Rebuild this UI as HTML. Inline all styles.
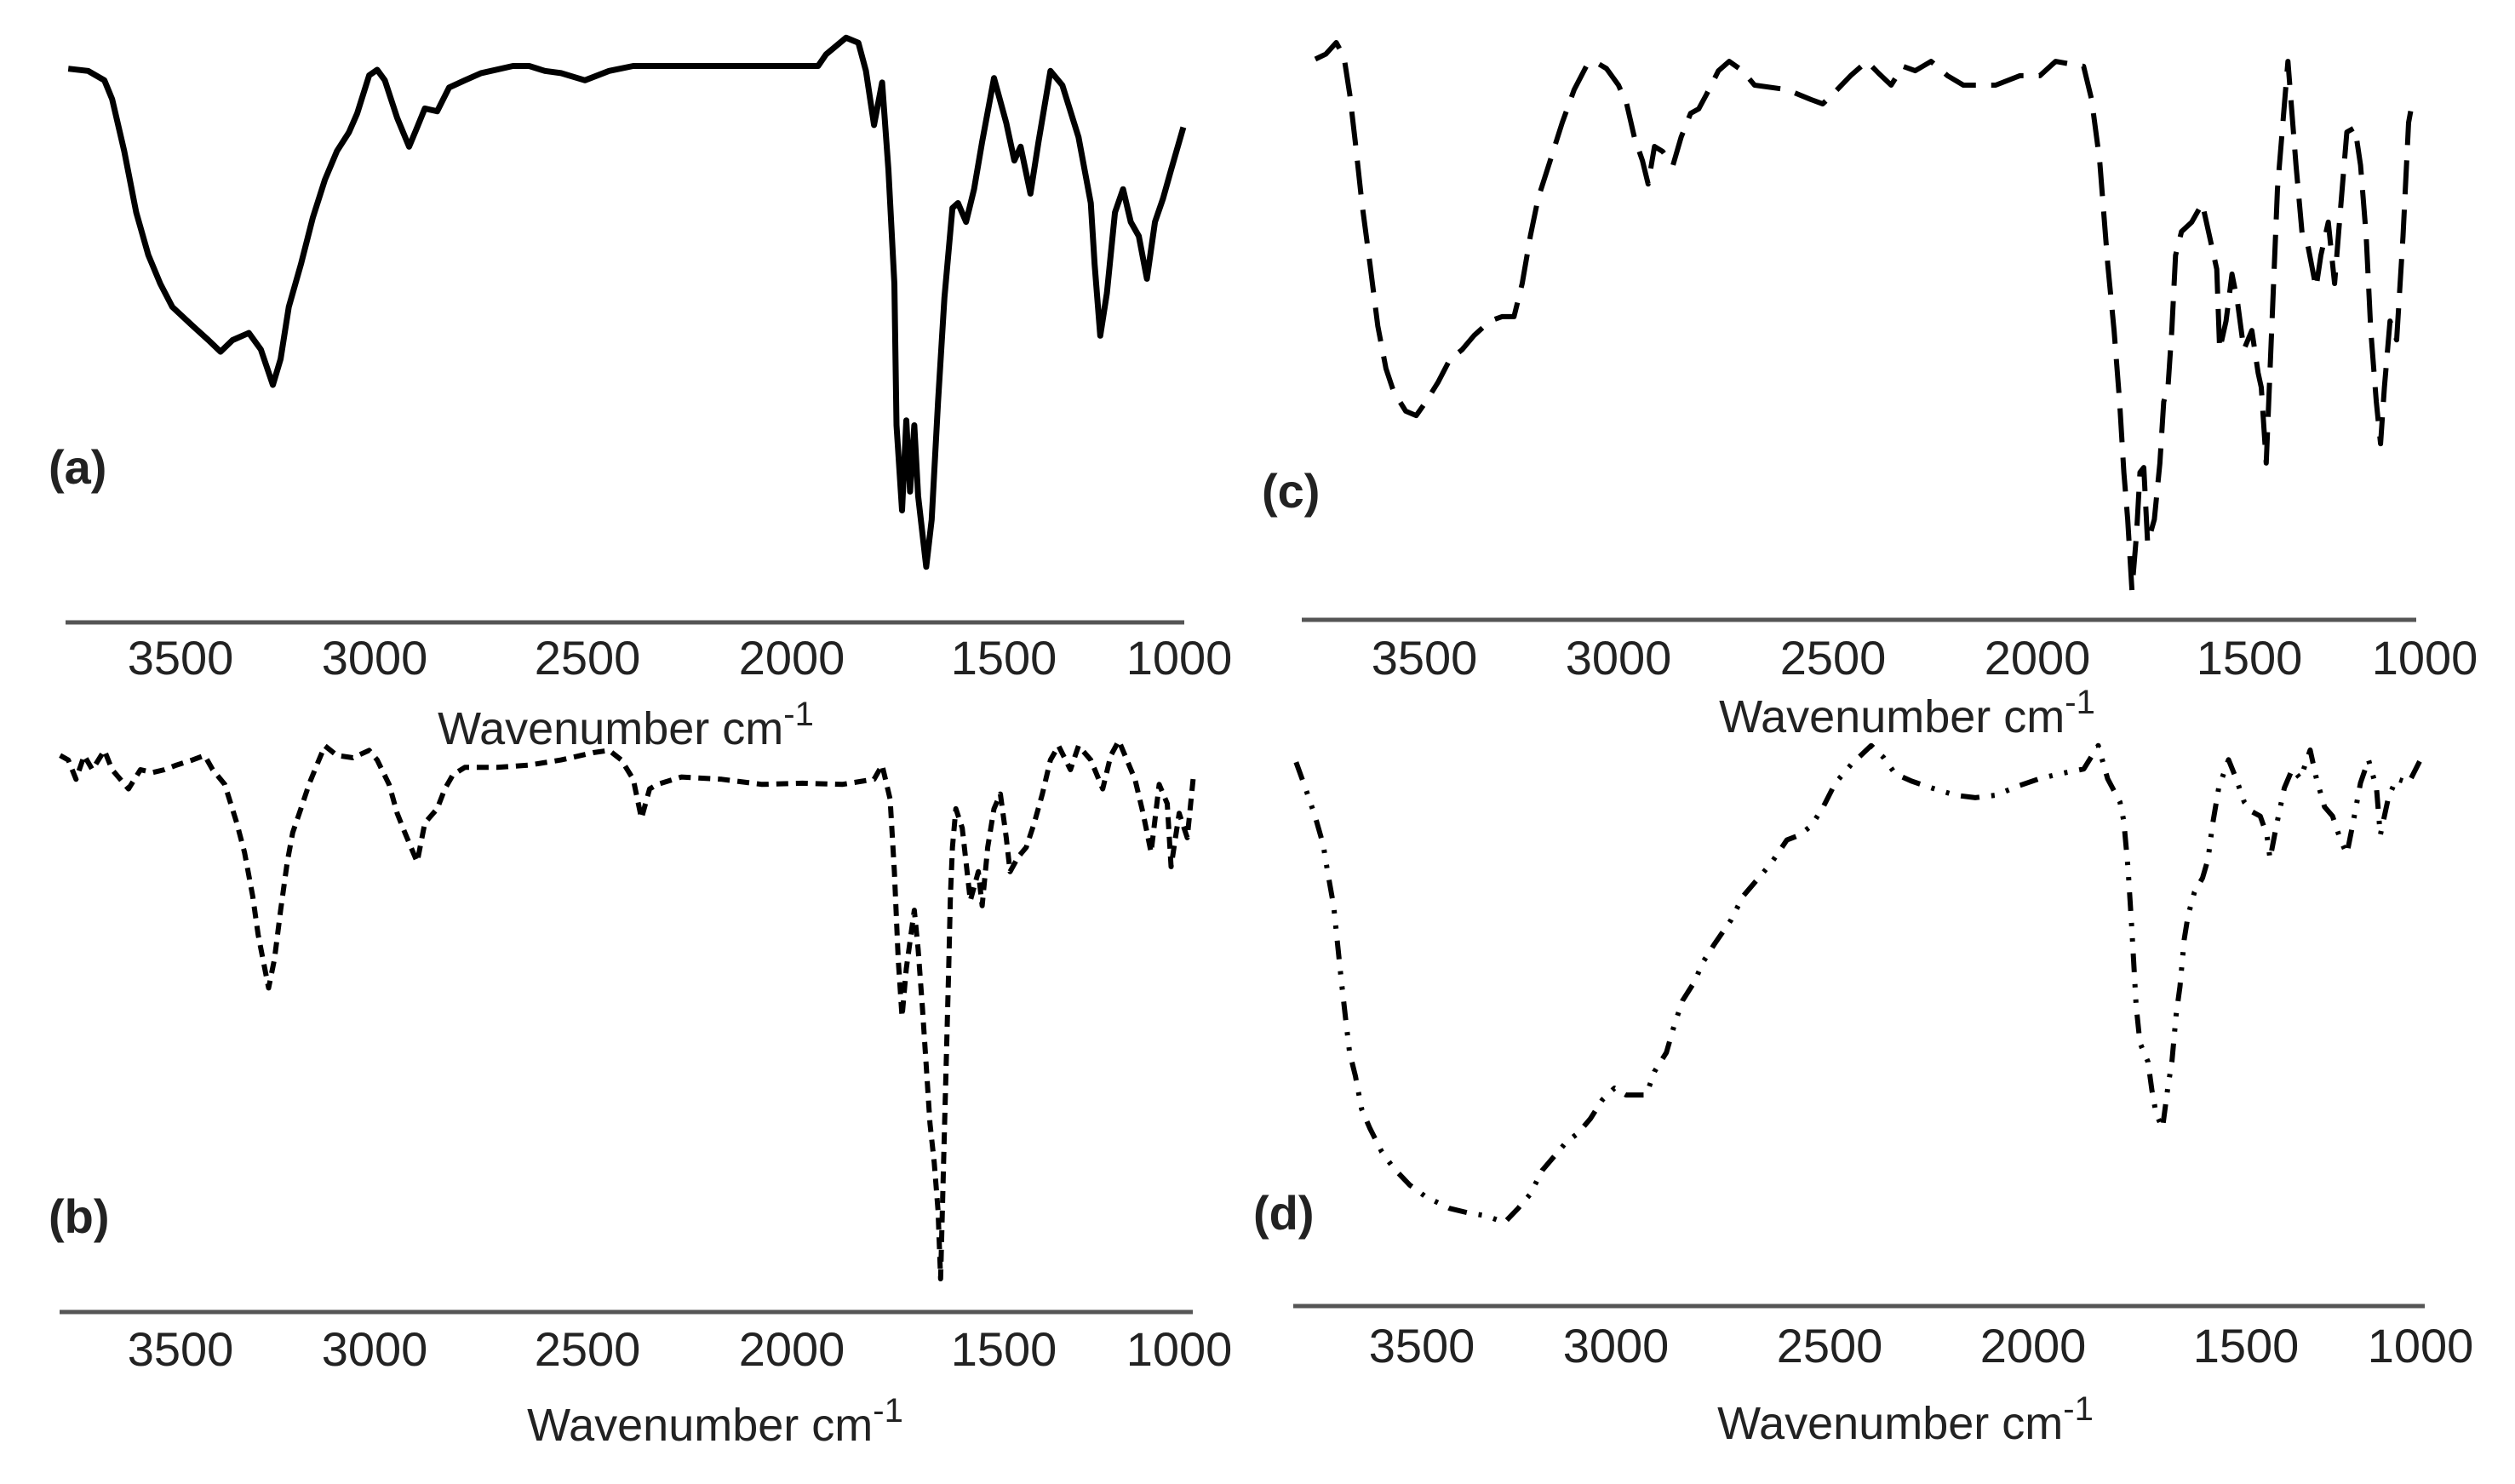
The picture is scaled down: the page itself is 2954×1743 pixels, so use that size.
<!DOCTYPE html>
<html><head><meta charset="utf-8"><style>
html,body{margin:0;padding:0;background:#fff;}
svg{display:block;}
text{font-family:"Liberation Sans",sans-serif;fill:#222;}
</style></head><body>
<svg id="fig" width="2954" height="1743" viewBox="0 0 2954 1743" xmlns="http://www.w3.org/2000/svg"></svg>
<script>
// ---- data: wavenumber (cm-1) and transmittance (arb. %) per spectrum ----
const tickLabels = [3500, 3000, 2500, 2000, 1500, 1000];

const aWn = [3789,3738,3696,3676,3645,3614,3583,3552,3521,3469,3428,3397,3366,3324,3293,3262,3242,3221,3190,3159,3128,3097,3066,3045,3014,2994,2976,2947,2919,2900,2882,2853,2825,2788,2750,2675,2637,2600,2562,2506,2447,2388,2309,1938,1919,1872,1843,1825,1806,1787,1772,1758,1753,1740,1730,1721,1711,1702,1683,1670,1655,1640,1621,1608,1589,1570,1551,1523,1493,1470,1452,1424,1401,1367,1333,1287,1252,1241,1225,1206,1183,1160,1138,1115,1092,1069,1046,1023,988];
const aT = [92.7,92.3,90.6,87.2,77.8,66.7,59.0,53.8,49.6,46.2,43.6,41.5,43.6,44.9,41.9,35.5,40.2,49.6,57.3,65.8,72.6,77.8,81.2,84.6,91.5,92.5,90.6,83.8,78.6,82.1,85.5,85.0,89.3,90.6,91.9,93.2,93.2,92.3,91.9,90.6,92.3,93.2,93.2,93.2,95.3,98.3,97.4,92.3,82.5,90.2,74.4,53.8,28.2,12.8,29.1,16.2,28.2,15.4,2.6,11.1,32.5,51.3,67.5,68.4,65.0,70.9,79.5,91.0,82.9,76.1,78.6,70.1,79.5,92.3,89.7,80.3,68.4,57.3,44.4,52.1,66.7,70.9,65.0,62.4,54.7,65.0,69.2,74.4,82.1];

const bWn = [3810,3789,3769,3748,3727,3696,3676,3634,3603,3572,3541,3510,3469,3438,3417,3386,3355,3335,3314,3300,3283,3273,3258,3242,3225,3211,3190,3169,3149,3128,3097,3056,3014,2994,2966,2947,2929,2900,2882,2853,2835,2816,2788,2712,2637,2562,2486,2447,2417,2388,2368,2348,2329,2270,2171,2073,1975,1881,1806,1787,1768,1758,1749,1740,1730,1711,1702,1692,1683,1674,1664,1655,1649,1642,1636,1630,1626,1621,1613,1598,1579,1560,1551,1538,1523,1508,1493,1482,1459,1436,1413,1390,1367,1344,1310,1287,1252,1218,1195,1172,1149,1126,1103,1080,1057,1034,1023,1000,977,959];
const bT = [97.4,96.6,93.2,97.4,94.9,98.3,94.9,91.5,94.9,94.4,94.9,95.7,96.6,97.4,94.9,92.3,85.5,80.3,72.6,65.8,59.8,56.4,61.5,70.1,78.6,83.8,88.0,92.3,95.7,99.1,97.4,97.0,98.3,96.6,92.3,87.2,83.8,78.6,85.5,88.0,91.5,94.0,95.3,95.3,95.7,96.6,97.9,98.3,96.6,93.2,86.3,91.5,92.3,93.6,93.2,92.3,92.5,92.3,93.2,95.7,89.7,76.9,61.5,51.3,59.8,70.1,63.2,53.0,42.7,32.5,25.6,17.1,5.1,25.6,42.7,59.8,72.6,81.2,88.0,84.6,71.8,76.9,70.9,81.2,88.0,90.6,82.9,76.9,79.5,81.2,85.5,90.6,96.6,99.1,94.9,99.1,96.6,91.5,97.4,100,96.6,93.2,87.2,80.3,92.3,88.9,77.8,87.2,82.9,94.0];

const cWn = [3781,3754,3727,3707,3692,3678,3661,3640,3620,3599,3579,3548,3521,3496,3465,3434,3403,3372,3331,3300,3269,3248,3227,3207,3176,3145,3114,3083,3062,3031,3000,2981,2963,2944,2931,2916,2897,2873,2854,2832,2813,2795,2767,2742,2711,2683,2608,2552,2524,2496,2457,2417,2388,2358,2329,2299,2260,2220,2181,2102,2043,1994,1957,1891,1872,1853,1834,1819,1806,1796,1787,1777,1766,1758,1749,1740,1724,1711,1702,1692,1683,1674,1660,1636,1611,1589,1577,1570,1555,1541,1528,1513,1493,1475,1466,1452,1436,1420,1390,1367,1349,1333,1310,1296,1275,1257,1241,1222,1199,1183,1167,1154,1138,1126,1115,1099,1080,1062,1046,1034];
const cT = [97.0,97.9,100,97.4,90.6,82.1,71.0,59.8,48.7,41.0,36.8,33.3,32.5,35.0,38.5,42.7,44.4,47.0,49.6,50.4,50.4,56.4,65.0,71.8,78.6,85.5,91.5,95.7,96.6,95.3,92.3,88.9,82.9,78.6,74.4,81.2,80.3,77.8,82.9,87.2,88.0,90.6,94.9,96.6,94.9,92.3,91.5,89.7,88.9,91.0,94.0,96.6,94.4,92.3,95.7,94.9,96.6,94.0,92.3,92.3,94.0,94.0,96.6,95.7,89.7,78.6,59.8,47.9,35.0,22.2,13.7,0.9,11.1,22.2,23.1,9.4,13.7,23.9,35.0,37.6,47.9,61.5,65.8,67.5,70.9,63.2,59.0,44.4,49.6,58.1,53.0,44.4,47.9,40.2,37.6,23.9,48.7,73.5,96.6,77.8,65.0,63.2,55.6,61.5,67.5,56.4,69.2,83.8,84.6,77.8,65.0,47.9,35.0,27.4,37.6,49.6,46.2,65.0,85.5,89.7];

const dWn = [3824,3800,3775,3754,3742,3727,3717,3707,3696,3686,3671,3655,3634,3603,3572,3531,3490,3428,3376,3335,3287,3252,3221,3190,3159,3128,3097,3066,3035,3004,2976,2929,2910,2882,2863,2844,2816,2797,2769,2731,2703,2675,2637,2600,2571,2543,2515,2486,2447,2398,2368,2339,2299,2250,2191,2142,2092,2033,1985,1938,1881,1847,1825,1796,1787,1777,1768,1758,1749,1730,1721,1711,1696,1683,1674,1664,1655,1645,1636,1621,1602,1589,1579,1564,1541,1523,1504,1482,1459,1440,1431,1413,1390,1367,1344,1316,1298,1275,1252,1229,1211,1195,1172,1149,1126,1115,1092,1069,1034,1000];
const dT = [95.6,90.3,84.5,78.6,72.8,66.0,58.3,50.5,42.7,35.9,31.1,24.3,20.4,15.5,12.1,8.7,6.3,3.9,2.9,2.4,1.0,3.9,6.8,11.7,14.6,17.5,19.4,22.3,26.2,28.6,27.2,27.2,32.0,35.9,41.7,46.6,50.5,54.4,58.3,63.1,68.0,70.9,74.8,79.6,80.6,82.5,86.4,91.3,95.1,99.0,96.6,93.2,91.7,90.3,88.8,88.3,88.8,90.8,92.2,93.2,94.2,99.0,92.2,87.4,83.5,73.8,61.2,45.6,37.9,34.0,28.2,23.3,20.4,29.1,34.0,43.7,49.5,59.2,64.1,68.9,71.8,75.7,82.5,90.3,96.1,92.2,87.4,85.4,84.5,80.6,75.7,82.5,90.3,94.2,92.2,98.1,92.2,86.4,84.5,79.6,76.7,82.5,91.3,96.1,90.3,80.6,88.3,92.2,91.3,96.1];

// ---- layout (axis calibration per panel) ----
const panels = [
  {id:'a', wn:aWn, t:aT, tickPx:[212,440,690,930,1179,1385], yTop:33.3, yBot:682.6, axisY:731, axisX0:77, axisX1:1391, tickY:772, labelX:57, labelY:568, xlabX:735, xlabY:874, dash:null, sw:7},
  {id:'b', wn:bWn, t:bT, tickPx:[212,440,690,930,1179,1385], yTop:870, yBot:1536, axisY:1541, axisX0:70, axisX1:1401, tickY:1584, labelX:57, labelY:1448, xlabX:840, xlabY:1692, dash:'14 9', sw:6},
  {id:'c', wn:cWn, t:cT, tickPx:[1673,1901,2153,2393,2642,2848], yTop:50, yBot:699, axisY:728, axisX0:1529, axisX1:2838, tickY:772, labelX:1482, labelY:596, xlabX:2240, xlabY:860, dash:'40 18', sw:6},
  {id:'d', wn:dWn, t:dT, tickPx:[1670,1898,2149,2388,2638,2843], yTop:870, yBot:1441.6, axisY:1534, axisX0:1519, axisX1:2848, tickY:1580, labelX:1472, labelY:1444, xlabX:2238, xlabY:1690, dash:'22 14 4 14 4 14', sw:6}
];

const NS='http://www.w3.org/2000/svg';
const svg=document.getElementById('fig');
function mk(tag, attrs){const e=document.createElementNS(NS,tag);for(const k in attrs)e.setAttribute(k,attrs[k]);return e;}

function xScale(p, w){
  const t=p.tickPx, v=tickLabels;
  let i=0;
  if(w>v[0]) i=0; else if(w<v[v.length-1]) i=v.length-2;
  else {for(i=0;i<v.length-2;i++){if(w<=v[i]&&w>=v[i+1])break;}}
  return t[i]+(v[i]-w)*(t[i+1]-t[i])/(v[i]-v[i+1]);
}
function yScale(p, T){return p.yBot-(T/100)*(p.yBot-p.yTop);}

panels.forEach(p=>{
  const g=mk('g',{});
  
  
  svg.appendChild(g);

  const ax=mk('line',{x1:p.axisX0,x2:p.axisX1,y1:p.axisY,y2:p.axisY,stroke:'#555','stroke-width':5});
  
  
  g.appendChild(ax);

  tickLabels.forEach((v,i)=>{
    const tx=mk('text',{x:p.tickPx[i],y:p.tickY+20,'text-anchor':'middle','font-size':56});
    
    
    tx.textContent=v;
    g.appendChild(tx);
  });

  const xl=mk('text',{x:p.xlabX,y:p.xlabY,'text-anchor':'middle','font-size':54});
  
  
  xl.textContent='Wavenumber cm';
  const sup=mk('tspan',{dy:-22,'font-size':40});
  sup.textContent='-1';
  xl.appendChild(sup);
  g.appendChild(xl);

  const lb=mk('text',{x:p.labelX,y:p.labelY,'font-size':56,'font-weight':'bold'});
  
  
  lb.textContent='('+p.id+')';
  g.appendChild(lb);

  let d='';
  p.wn.forEach((w,i)=>{d+=(i?'L':'M')+xScale(p,w).toFixed(1)+' '+yScale(p,p.t[i]).toFixed(1);});
  const attrs={d:d,fill:'none',stroke:'#000','stroke-width':p.sw,'stroke-linejoin':'round','stroke-linecap':'butt'};
  if(p.dash) attrs['stroke-dasharray']=p.dash;
  const path=mk('path',attrs);
  
  
  g.appendChild(path);
});
</script>
</body></html>
